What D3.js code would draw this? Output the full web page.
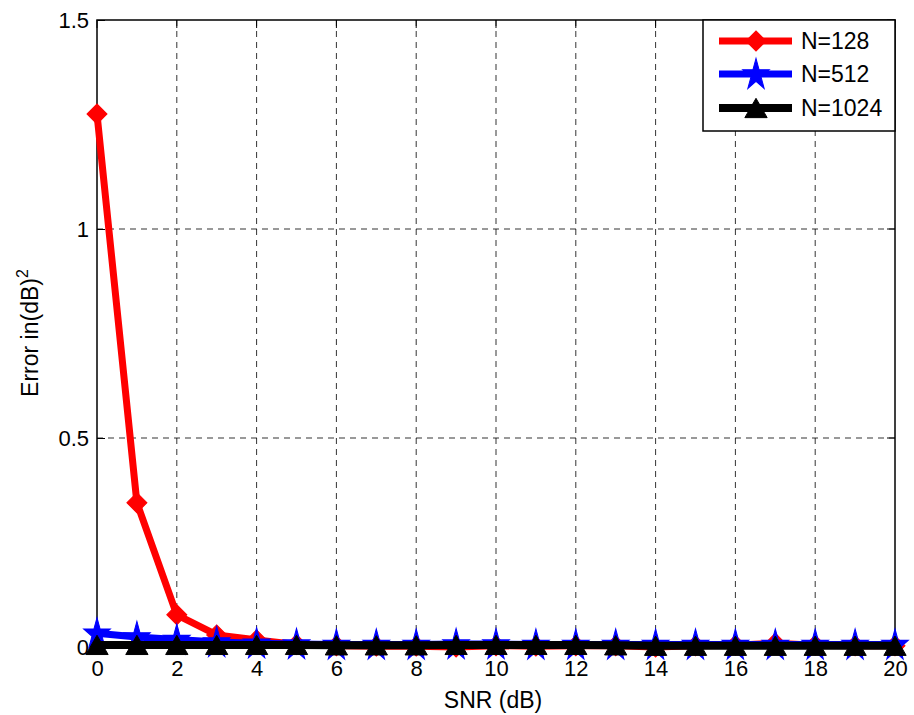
<!DOCTYPE html>
<html><head><meta charset="utf-8">
<script src="https://cdn.jsdelivr.net/npm/d3@7"></script>
<style>body{margin:0;background:#fff;} svg{display:block;} text{font-family:"Liberation Sans",Arial,sans-serif;}</style>
</head><body>
<svg id="c" width="914" height="715"></svg>
<script>
const snr = [0,1,2,3,4,5,6,7,8,9,10,11,12,13,14,15,16,17,18,19,20];
const n128 = [1.275,0.345,0.077,0.029,0.017,0.006,0.003,0.002,0.002,0.0,0.003,0.002,0.003,0.003,0.0,0.003,0.004,0.009,0.004,0.003,0.003];
const n512 = [0.033,0.024,0.018,0.012,0.009,0.007,0.006,0.006,0.006,0.007,0.007,0.006,0.006,0.006,0.006,0.006,0.006,0.006,0.006,0.006,0.006];
const n1024 = [0.005,0.005,0.005,0.005,0.005,0.005,0.004,0.004,0.004,0.005,0.005,0.005,0.005,0.004,0.003,0.003,0.003,0.003,0.003,0.003,0.003];
const xTicks = [0,2,4,6,8,10,12,14,16,18,20];
const yTicks = [0,0.5,1,1.5];
const seriesNames = ["N=128","N=512","N=1024"];
const seriesColors = ["#ff0000","#0000ff","#000000"];

const svg = d3.select("#c");
const L=97,R=895,T=20,B=647;
const x = d3.scaleLinear().domain([0,20]).range([L,R]);
const y = d3.scaleLinear().domain([0,1.5]).range([B,T]);

// grid
const g = svg.append("g");
xTicks.slice(1,-1).forEach(t=>g.append("line").attr("x1",x(t)).attr("x2",x(t)).attr("y1",T).attr("y2",B).attr("stroke","#000").attr("stroke-opacity",0.8).attr("stroke-dasharray","6,5").attr("stroke-width",1));
yTicks.slice(1,-1).forEach(t=>g.append("line").attr("x1",L).attr("x2",R).attr("y1",y(t)).attr("y2",y(t)).attr("stroke","#000").attr("stroke-opacity",0.8).attr("stroke-dasharray","6,5").attr("stroke-width",1));

// axes
const xa = svg.append("g").attr("transform",`translate(0,${B})`).call(d3.axisBottom(x).tickValues(xTicks).tickSize(-8).tickPadding(13).tickFormat(d3.format("d")));
const ya = svg.append("g").attr("transform",`translate(${L},0)`).call(d3.axisLeft(y).tickValues(yTicks).tickSize(-8).tickPadding(8).tickFormat(d=>d===0?"0":d3.format("")(d)));
[xa,ya].forEach(a=>{a.select(".domain").remove();a.selectAll("text").attr("font-size",22).attr("fill","#000").style("font-family","Liberation Sans, Arial, sans-serif");a.selectAll("line").attr("stroke","#000");});
xa.selectAll("text").attr("dy","0.71em");
xTicks.forEach(t=>svg.append("line").attr("x1",x(t)).attr("x2",x(t)).attr("y1",T).attr("y2",T+8).attr("stroke","#000"));
yTicks.forEach(t=>svg.append("line").attr("x1",R).attr("x2",R-8).attr("y1",y(t)).attr("y2",y(t)).attr("stroke","#000"));
svg.append("rect").attr("x",L).attr("y",T).attr("width",R-L).attr("height",B-T).attr("fill","none").attr("stroke","#000").attr("stroke-width",1.5);

const data = [n128,n512,n1024];
const line = d3.line().x((d,i)=>x(snr[i])).y(d=>y(d));
const plot = svg.append("g");
function mark(sel,k,cx,cy){
  const p = sel.append("path").attr("fill",seriesColors[k]).attr("stroke",seriesColors[k]).attr("stroke-width",1);
  if(k===0) p.attr("d",d3.symbol(d3.symbolSquare,200)()).attr("transform",`translate(${cx},${cy}) rotate(45)`);
  else if(k===1) p.attr("d",d3.symbol(d3.symbolStar,215)()).attr("transform",`translate(${cx},${cy+1}) scale(1,1.2)`);
  else p.attr("d",d3.symbol(d3.symbolTriangle,215)()).attr("transform",`translate(${cx},${cy+3.2})`);
}
data.forEach((arr,k)=>{
  plot.append("path").datum(arr).attr("d",line).attr("fill","none").attr("stroke",seriesColors[k]).attr("stroke-width",k===2?8:7).attr("stroke-linejoin","round");
  arr.forEach((v,i)=>mark(plot,k,x(snr[i]),y(v)));
});

// legend
const lg = svg.append("g");
lg.append("rect").attr("x",703).attr("y",20).attr("width",192).attr("height",111).attr("fill","#fff").attr("stroke","#000").attr("stroke-width",1.5);
const ly=[41,74,108];
seriesNames.forEach((n,k)=>{
  lg.append("line").attr("x1",719).attr("x2",792).attr("y1",ly[k]).attr("y2",ly[k]).attr("stroke",seriesColors[k]).attr("stroke-width",k===2?8:7);
  mark(lg,k,756,ly[k]);
  lg.append("text").attr("x",801).attr("y",ly[k]).attr("dy","0.36em").attr("font-size",23).text(n);
});

// labels
svg.append("text").attr("x",493).attr("y",708).attr("text-anchor","middle").attr("font-size",23).text("SNR (dB)");
const yl = svg.append("text").attr("transform","translate(38,333) rotate(-90)").attr("text-anchor","middle").attr("font-size",23);
yl.append("tspan").text("Error in(dB)");
yl.append("tspan").attr("font-size",16).attr("dy",-10).text("2");
</script>
</body></html>
